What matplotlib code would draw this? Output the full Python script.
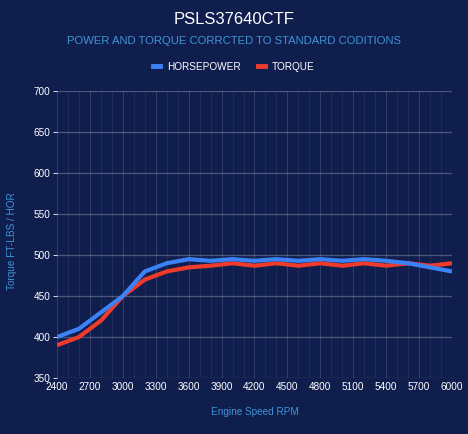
import matplotlib
matplotlib.use("Agg")
import matplotlib.pyplot as plt
from matplotlib.lines import Line2D
import numpy as np

plt.rcParams['font.family'] = ['Liberation Sans', 'DejaVu Sans']

rpm = [2400, 2600, 2800, 3000, 3200, 3400, 3600, 3800, 4000, 4200,
       4400, 4600, 4800, 5000, 5200, 5400, 5600, 5800, 6000]
horsepower = [400, 410, 430, 450, 480, 490, 495, 493, 495, 493,
              495, 493, 495, 493, 495, 493, 490, 485, 480]
torque = [390, 400, 420, 450, 470, 480, 485, 487, 490, 487,
          490, 487, 490, 487, 490, 487, 490, 487, 490]
x_ticks = [2400, 2700, 3000, 3300, 3600, 3900, 4200, 4500, 4800, 5100, 5400, 5700, 6000]
y_ticks = [350, 400, 450, 500, 550, 600, 650, 700]

BG = '#101e4e'
BLUE = '#3b82f6'
RED = '#ef3b2c'
SUB = '#3d95d6'

fig = plt.figure(figsize=(4.68, 4.34), dpi=100, facecolor=BG)
ax = fig.add_axes([0.1218, 0.129, 0.844, 0.661], facecolor=BG)

# minor grid every 100 rpm
for v in range(2400, 6001, 100):
    ax.axvline(v, color='white', alpha=0.06, lw=0.8, zorder=0)
for v in x_ticks:
    ax.axvline(v, color='white', alpha=0.09, lw=0.8, zorder=0)
for v in y_ticks:
    ax.axhline(v, color='white', alpha=0.25, lw=0.9, zorder=0)

ax.plot(rpm, horsepower, color=BLUE, lw=3, solid_capstyle='butt', zorder=3)
ax.plot(rpm, torque, color=RED, lw=3, solid_capstyle='butt', zorder=2)

ax.set_xlim(2400, 6000)
ax.set_ylim(350, 700)
ax.set_xticks(x_ticks)
ax.set_xticklabels([str(v) for v in x_ticks])
ax.set_yticks(y_ticks)
ax.tick_params(axis='both', colors='white', labelsize=7.2, length=3, width=0.6, pad=1.5)
ax.tick_params(axis='x', length=0, pad=3)
for s in ax.spines.values():
    s.set_visible(False)

ax.set_xlabel('Engine Speed RPM', color=SUB, fontsize=7.2, labelpad=11)
ax.set_ylabel('Torque FT-LBS / HOR', color=SUB, fontsize=7.2)
ax.yaxis.set_label_coords(-0.102, 0.476)

fig.text(0.5, 0.955, 'PSLS37640CTF', color='white', fontsize=12, ha='center', va='center')
fig.text(0.5, 0.905, 'POWER AND TORQUE CORRCTED TO STANDARD CODITIONS', color=SUB,
         fontsize=8.1, ha='center', va='center')

handles = [Line2D([0], [0], color=BLUE, lw=3.5), Line2D([0], [0], color=RED, lw=3.5)]
leg = fig.legend(handles, ['HORSEPOWER', 'TORQUE'], loc='center', bbox_to_anchor=(0.5, 0.846),
                 ncol=2, frameon=False, fontsize=7.2, handlelength=0.65, handletextpad=0.7,
                 columnspacing=1.8)
for t in leg.get_texts():
    t.set_color('white')

fig.savefig('out.png', dpi=100, facecolor=BG)
